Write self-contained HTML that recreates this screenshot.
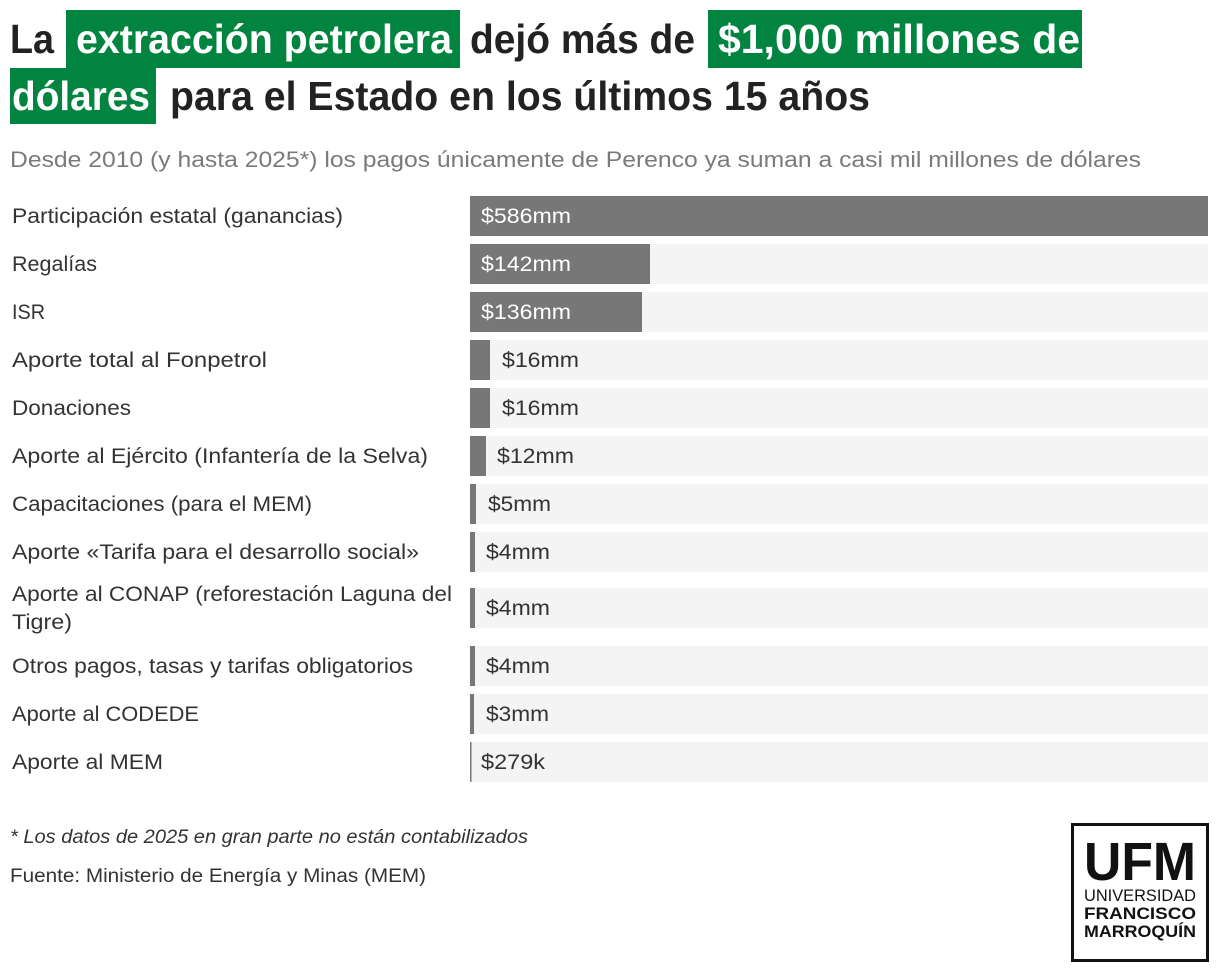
<!DOCTYPE html>
<html><head><meta charset="utf-8"><style>
html,body{margin:0;padding:0;background:#fff;}
svg{display:block;font-family:"Liberation Sans",sans-serif;}
</style></head><body>
<svg width="1220" height="972" viewBox="0 0 1220 972" xmlns="http://www.w3.org/2000/svg">
<rect width="1220" height="972" fill="#fff"/>
<rect x="66" y="10" width="394" height="58" fill="#00843f"/>
<rect x="708" y="10" width="374" height="58" fill="#00843f"/>
<rect x="10" y="68" width="146" height="56" fill="#00843f"/>
<g font-weight="bold" font-size="41">
<text x="10" y="53" fill="#222" textLength="44" lengthAdjust="spacingAndGlyphs">La</text>
<text x="76" y="53" fill="#fff" textLength="376" lengthAdjust="spacingAndGlyphs">extracción petrolera</text>
<text x="470" y="53" fill="#222" textLength="225" lengthAdjust="spacingAndGlyphs">dejó más de</text>
<text x="718" y="53" fill="#fff" textLength="362" lengthAdjust="spacingAndGlyphs">$1,000 millones de</text>
<text x="12" y="110" fill="#fff" textLength="138" lengthAdjust="spacingAndGlyphs">dólares</text>
<text x="170" y="110" fill="#222" textLength="700" lengthAdjust="spacingAndGlyphs">para el Estado en los últimos 15 años</text>
</g>
<text x="10" y="167" font-size="22" fill="#7a7a7a" textLength="1131" lengthAdjust="spacingAndGlyphs">Desde 2010 (y hasta 2025*) los pagos únicamente de Perenco ya suman a casi mil millones de dólares</text>

<g fill="#f4f4f4">
<rect x="470" y="196" width="738" height="40"/>
<rect x="470" y="244" width="738" height="40"/>
<rect x="470" y="292" width="738" height="40"/>
<rect x="470" y="340" width="738" height="40"/>
<rect x="470" y="388" width="738" height="40"/>
<rect x="470" y="436" width="738" height="40"/>
<rect x="470" y="484" width="738" height="40"/>
<rect x="470" y="532" width="738" height="40"/>
<rect x="470" y="588" width="738" height="40"/>
<rect x="470" y="646" width="738" height="40"/>
<rect x="470" y="694" width="738" height="40"/>
<rect x="470" y="742" width="738" height="40"/>
</g>
<g fill="#777">
<rect x="470" y="196" width="738" height="40"/>
<rect x="470" y="244" width="180" height="40"/>
<rect x="470" y="292" width="172" height="40"/>
<rect x="470" y="340" width="20" height="40"/>
<rect x="470" y="388" width="20" height="40"/>
<rect x="470" y="436" width="16" height="40"/>
<rect x="470" y="484" width="6" height="40"/>
<rect x="470" y="532" width="5" height="40"/>
<rect x="470" y="588" width="5" height="40"/>
<rect x="470" y="646" width="5" height="40"/>
<rect x="470" y="694" width="4" height="40"/>
<rect x="470" y="742" width="1.5" height="40"/>
</g>
<g font-size="21" fill="#333">
<text x="12" y="223" textLength="331" lengthAdjust="spacingAndGlyphs">Participación estatal (ganancias)</text>
<text x="12" y="271" textLength="85" lengthAdjust="spacingAndGlyphs">Regalías</text>
<text x="12" y="319" textLength="33" lengthAdjust="spacingAndGlyphs">ISR</text>
<text x="12" y="367" textLength="255" lengthAdjust="spacingAndGlyphs">Aporte total al Fonpetrol</text>
<text x="12" y="415" textLength="119" lengthAdjust="spacingAndGlyphs">Donaciones</text>
<text x="12" y="463" textLength="416" lengthAdjust="spacingAndGlyphs">Aporte al Ejército (Infantería de la Selva)</text>
<text x="12" y="511" textLength="300" lengthAdjust="spacingAndGlyphs">Capacitaciones (para el MEM)</text>
<text x="12" y="559" textLength="407" lengthAdjust="spacingAndGlyphs">Aporte «Tarifa para el desarrollo social»</text>
<text x="12" y="601" textLength="440" lengthAdjust="spacingAndGlyphs">Aporte al CONAP (reforestación Laguna del</text>
<text x="12" y="629" textLength="60" lengthAdjust="spacingAndGlyphs">Tigre)</text>
<text x="12" y="673" textLength="401" lengthAdjust="spacingAndGlyphs">Otros pagos, tasas y tarifas obligatorios</text>
<text x="12" y="721" textLength="187" lengthAdjust="spacingAndGlyphs">Aporte al CODEDE</text>
<text x="12" y="769" textLength="151" lengthAdjust="spacingAndGlyphs">Aporte al MEM</text>
</g>
<g font-size="21">
<text x="481" y="223" fill="#fff" textLength="90" lengthAdjust="spacingAndGlyphs">$586mm</text>
<text x="481" y="271" fill="#fff" textLength="90" lengthAdjust="spacingAndGlyphs">$142mm</text>
<text x="481" y="319" fill="#fff" textLength="90" lengthAdjust="spacingAndGlyphs">$136mm</text>
<text x="502" y="367" fill="#333" textLength="77" lengthAdjust="spacingAndGlyphs">$16mm</text>
<text x="502" y="415" fill="#333" textLength="77" lengthAdjust="spacingAndGlyphs">$16mm</text>
<text x="497" y="463" fill="#333" textLength="77" lengthAdjust="spacingAndGlyphs">$12mm</text>
<text x="488" y="511" fill="#333" textLength="63" lengthAdjust="spacingAndGlyphs">$5mm</text>
<text x="486" y="559" fill="#333" textLength="64" lengthAdjust="spacingAndGlyphs">$4mm</text>
<text x="486" y="615" fill="#333" textLength="64" lengthAdjust="spacingAndGlyphs">$4mm</text>
<text x="486" y="673" fill="#333" textLength="64" lengthAdjust="spacingAndGlyphs">$4mm</text>
<text x="486" y="721" fill="#333" textLength="63" lengthAdjust="spacingAndGlyphs">$3mm</text>
<text x="481" y="769" fill="#333" textLength="64" lengthAdjust="spacingAndGlyphs">$279k</text>
</g>
<text x="10" y="843" font-size="19" font-style="italic" fill="#333" textLength="518" lengthAdjust="spacingAndGlyphs">* Los datos de 2025 en gran parte no están contabilizados</text>
<text x="10" y="882" font-size="19" fill="#333" textLength="416" lengthAdjust="spacingAndGlyphs">Fuente: Ministerio de Energía y Minas (MEM)</text>

<rect x="1072.5" y="824.5" width="135" height="136" fill="none" stroke="#111" stroke-width="3"/>
<text x="1140" y="880" font-size="54" font-weight="bold" fill="#111" text-anchor="middle" textLength="112" lengthAdjust="spacingAndGlyphs">UFM</text>
<text x="1140" y="901" font-size="17" fill="#111" text-anchor="middle" textLength="112" lengthAdjust="spacingAndGlyphs">UNIVERSIDAD</text>
<text x="1140" y="919" font-size="17" font-weight="bold" fill="#111" text-anchor="middle" textLength="112" lengthAdjust="spacingAndGlyphs">FRANCISCO</text>
<text x="1140" y="937" font-size="17" font-weight="bold" fill="#111" text-anchor="middle" textLength="112" lengthAdjust="spacingAndGlyphs">MARROQUÍN</text>
</svg>
</body></html>
